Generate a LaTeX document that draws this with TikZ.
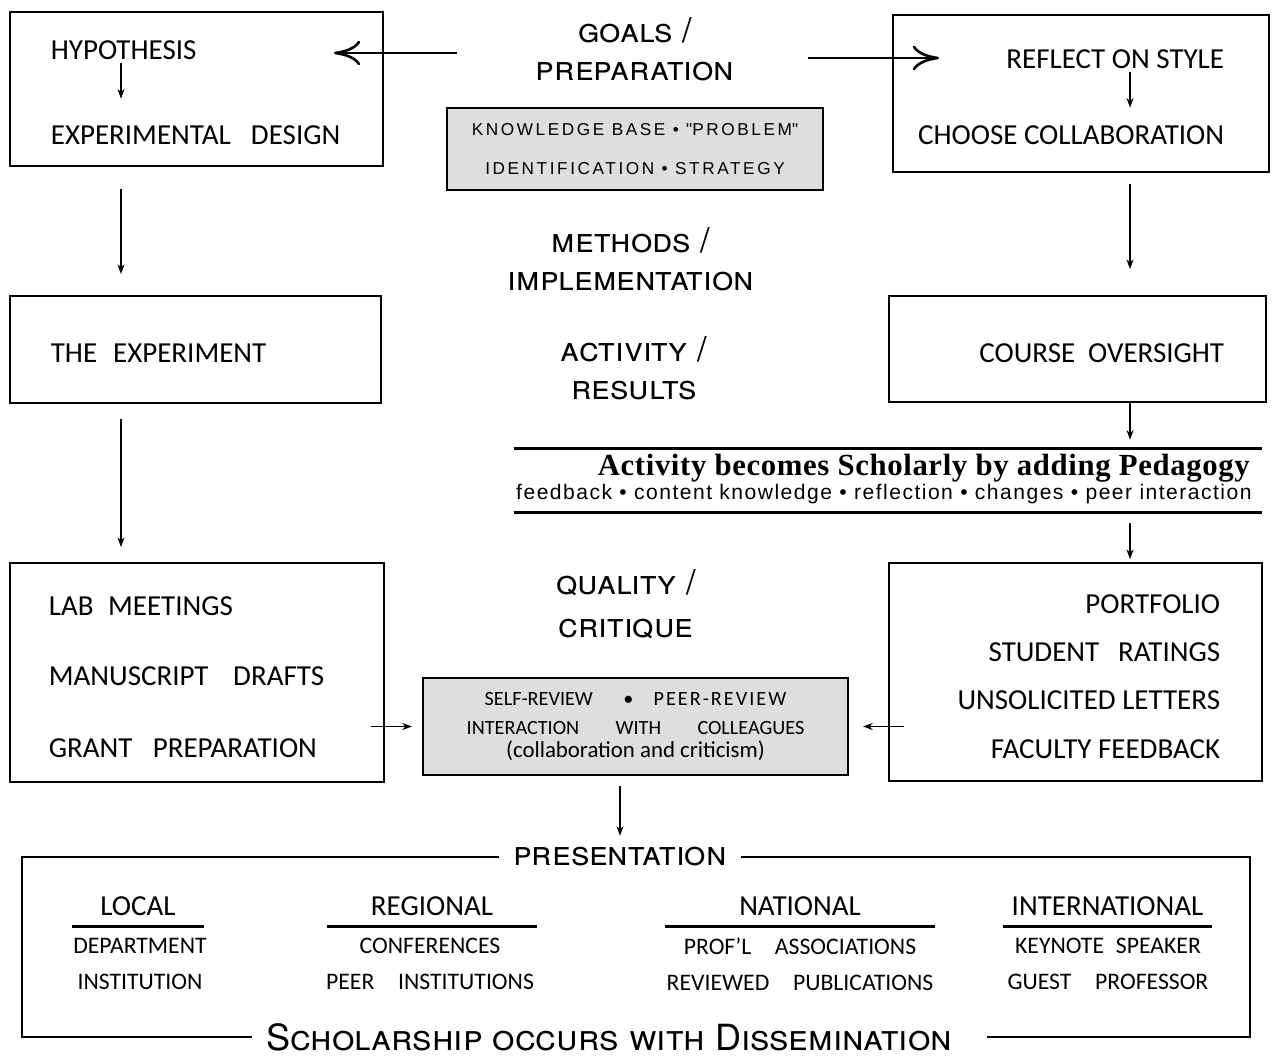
\documentclass[tikz,border=0pt]{standalone}
\usepackage{fontspec}
\setmainfont{Carlito}
\newfontfamily\headfont{TeX Gyre Heros}
\newfontfamily\kbfont{Liberation Sans}[LetterSpace=15]
\newfontfamily\pedfont{Liberation Serif}[LetterSpace=2]
\newfontfamily\pedsubfont{Liberation Sans}[LetterSpace=7]
\usetikzlibrary{arrows.meta}

\begin{document}
\begin{tikzpicture}[
    x=0.02cm, y=-0.02cm,
    box/.style={
        rectangle,
        draw,
        line width=1.1pt
    },
    graybox/.style={
        rectangle,
        draw,
        line width=1.3pt,
        fill=black!13,
        align=center
    },
    boxtext/.style={
        font=\fontsize{16.5}{20}\selectfont,
        inner sep=2pt
    },
    heading/.style={
        font=\headfont\scshape\fontsize{19.5}{21.5}\selectfont,
        align=center
    },
    colhead/.style={
        font=\fontsize{16.5}{20}\selectfont,
        inner xsep=0pt,
        inner ysep=6pt
    },
    colsub/.style={
        font=\fontsize{13.5}{20.4}\selectfont,
        align=center
    },
    arr/.style={
        -{Stealth[length=5.5pt,width=4pt]},
        line width=0.6pt
    },
    bigarr/.style={
        -{Computer Modern Rightarrow[length=15pt,width=14pt]},
        line width=1.5pt
    },
    rule/.style={line width=1.6pt},
    underl/.style={line width=1.3pt}
]
    \path[use as bounding box] (0,0) rectangle (1274,1057);

    % columns of the vertical connectors
    \coordinate (lcol) at (121,0);
    \coordinate (rcol) at (1130,0);

    % Research
    \node[box, minimum width=7.46cm, minimum height=3.08cm] (hyp) at (196.5,89) {};
    \node[boxtext, anchor=west] (hyptxt) at (47,50) {HYPOTHESIS};
    \node[boxtext, anchor=west] (designtxt) at (47,135) {EXPERIMENTAL\hspace{.7em}DESIGN};
    \node[box, minimum width=7.42cm, minimum height=2.14cm] (exp) at (195.5,349.5) {};
    \node[boxtext, anchor=west] (exptxt) at (47,353) {THE\hspace{.55em}EXPERIMENT};
    \node[box, minimum width=7.48cm, minimum height=4.38cm] (lab) at (197,672.5) {};
    \node[boxtext, anchor=west] (labtxt) at (45,606) {LAB\hspace{.5em}MEETINGS};
    \node[boxtext, anchor=west] (drafttxt) at (45,676) {MANUSCRIPT\hspace{.85em}DRAFTS};
    \node[boxtext, anchor=west] (granttxt) at (45,748) {GRANT\hspace{.7em}PREPARATION};

    % Teaching
    \node[box, minimum width=7.52cm, minimum height=3.14cm] (refl) at (1081,93.5) {};
    \node[boxtext, anchor=east] (refltxt) at (1228,59) {REFLECT ON STYLE};
    \node[boxtext, anchor=east] (choosetxt) at (1228,135) {CHOOSE COLLABORATION};
    \node[box, minimum width=7.54cm, minimum height=2.12cm] (course) at (1077.5,349) {};
    \node[boxtext, anchor=east] (coursetxt) at (1228,353) {COURSE\hspace{.45em}OVERSIGHT};
    \node[box, minimum width=7.46cm, minimum height=4.36cm] (port) at (1075.5,672) {};
    \node[boxtext, anchor=east] (porttxt) at (1224,604) {PORTFOLIO};
    \node[boxtext, anchor=east] (ratetxt) at (1224,652) {STUDENT\hspace{.65em}RATINGS};
    \node[boxtext, anchor=east] (lettxt) at (1224,700) {UNSOLICITED LETTERS};
    \node[boxtext, anchor=east] (factxt) at (1224,749) {FACULTY FEEDBACK};

    % Stages
    \node[heading] (goals) at (635,49) {goals /\\preparation};
    \node[graybox, minimum width=7.52cm, minimum height=1.64cm, font=\kbfont\fontsize{9.8}{22}\selectfont] (kb) at (635,149)
        {KNOWLEDGE BASE \textbullet{} \textquotedbl PROBLEM\textquotedbl\\IDENTIFICATION \textbullet{} STRATEGY};
    \node[heading] (methods) at (631,259) {methods /\\implementation};
    \node[heading] (activity) at (634,368) {activity /\\results};
    \node[heading] (quality) at (626,604) {quality /\\[3pt]critique};

    % Pedagogy
    \node[minimum width=14.96cm, minimum height=1.26cm, inner sep=0pt] (ped) at (888,480.5) {};
    \draw[rule] (ped.north west) -- (ped.north east);
    \draw[rule] (ped.south west) -- (ped.south east);
    \node[anchor=east, inner sep=0pt, font=\pedfont\bfseries\fontsize{17.5}{20}\selectfont] (pedtitle) at (1250,468)
        {Activity becomes Scholarly by adding Pedagogy};
    \node[anchor=east, inner sep=0pt, font=\pedsubfont\fontsize{12}{14}\selectfont] (pedsub) at (1252,494)
        {feedback \textbullet{} content knowledge \textbullet{} reflection \textbullet{} changes \textbullet{} peer interaction};

    % Review
    \node[graybox, minimum width=8.5cm, minimum height=1.94cm, font=\fontsize{11.5}{16.4}\selectfont] (rev) at (635.5,726.5)
        {SELF-REVIEW\hspace{1.5em}\textbullet\hspace{1em}{\addfontfeature{LetterSpace=10}PEER-REVIEW}\\
         INTERACTION\hspace{1.8em}WITH\hspace{1.8em}COLLEAGUES\\[-3.4pt]
         {\fontsize{13}{15}\selectfont(collaboration and criticism)}};

    % Dissemination
    \node[heading, inner xsep=8pt, inner ysep=2pt] (pres) at (620,857) {presentation};
    \node[heading, inner xsep=8pt, inner ysep=2pt, font=\headfont\scshape\fontsize{20.5}{24}\selectfont] (schol) at (609,1037)
        {Scholarship occurs with Dissemination};
    \coordinate (frmL) at (22,0);
    \coordinate (frmR) at (1250,0);
    \draw[rule] (pres.west) -- (pres.west -| frmL) -- (schol.west -| frmL) -- (schol.west);
    \draw[rule] (pres.east) -- (pres.east -| frmR) -- (schol.east -| frmR) -- ([xshift=12pt]schol.east);

    \node[colhead, minimum width=2.64cm] (local) at (138,906) {LOCAL};
    \node[colsub] (localsub) at (140,964) {DEPARTMENT\\INSTITUTION};
    \node[colhead, minimum width=4.2cm] (regional) at (432,906) {REGIONAL};
    \node[colsub] (regsub) at (430,964) {CONFERENCES\\PEER\hspace{1em}INSTITUTIONS};
    \node[colhead, minimum width=5.4cm] (national) at (800,906) {NATIONAL};
    \node[colsub] (natsub) at (800,964) {PROF'L\hspace{1em}ASSOCIATIONS\\REVIEWED\hspace{1em}PUBLICATIONS};
    \node[colhead, minimum width=4.18cm] (intl) at (1107.5,906) {INTERNATIONAL};
    \node[colsub] (intlsub) at (1108,964) {KEYNOTE\hspace{.5em}SPEAKER\\GUEST\hspace{1em}PROFESSOR};
    \foreach \c in {local,regional,national,intl}
        \draw[underl] (\c.south west) -- (\c.south east);

    % Connectors
    \coordinate (goalsL) at (457,53);
    \coordinate (goalsR) at (808,58);
    \draw[bigarr, shorten >=-1cm] (goalsL) -- (goalsL -| hyp.east);
    \draw[bigarr, shorten >=-0.94cm] (goalsR) -- (goalsR -| refl.west);

    \draw[arr, shorten >=0.46cm] (hyptxt.south -| lcol) -- (designtxt.north -| lcol);
    \draw[arr, shorten <=0.44cm, shorten >=0.42cm] (hyp.south -| lcol) -- (exp.north -| lcol);
    \draw[arr, shorten <=0.3cm, shorten >=0.3cm] (exp.south -| lcol) -- (lab.north -| lcol);

    \draw[arr, shorten >=0.28cm] (refltxt.south -| rcol) -- (choosetxt.north -| rcol);
    \draw[arr, shorten <=0.22cm, shorten >=0.52cm] (refl.south -| rcol) -- (course.north -| rcol);
    \draw[arr, shorten >=0.18cm] (course.south -| rcol) -- (ped.north -| rcol);
    \draw[arr, shorten <=0.22cm, shorten >=0.06cm] (ped.south -| rcol) -- (port.north -| rcol);

    \draw[arr, shorten <=-0.28cm, shorten >=0.2cm] (lab.east |- rev.west) -- (rev.west);
    \draw[arr, shorten <=-0.32cm, shorten >=0.28cm] (port.west |- rev.east) -- (rev.east);
    \draw[arr, shorten <=0.2cm, shorten >=0.16cm] (rev.south -| pres.north) -- (pres.north);
\end{tikzpicture}
\end{document}
